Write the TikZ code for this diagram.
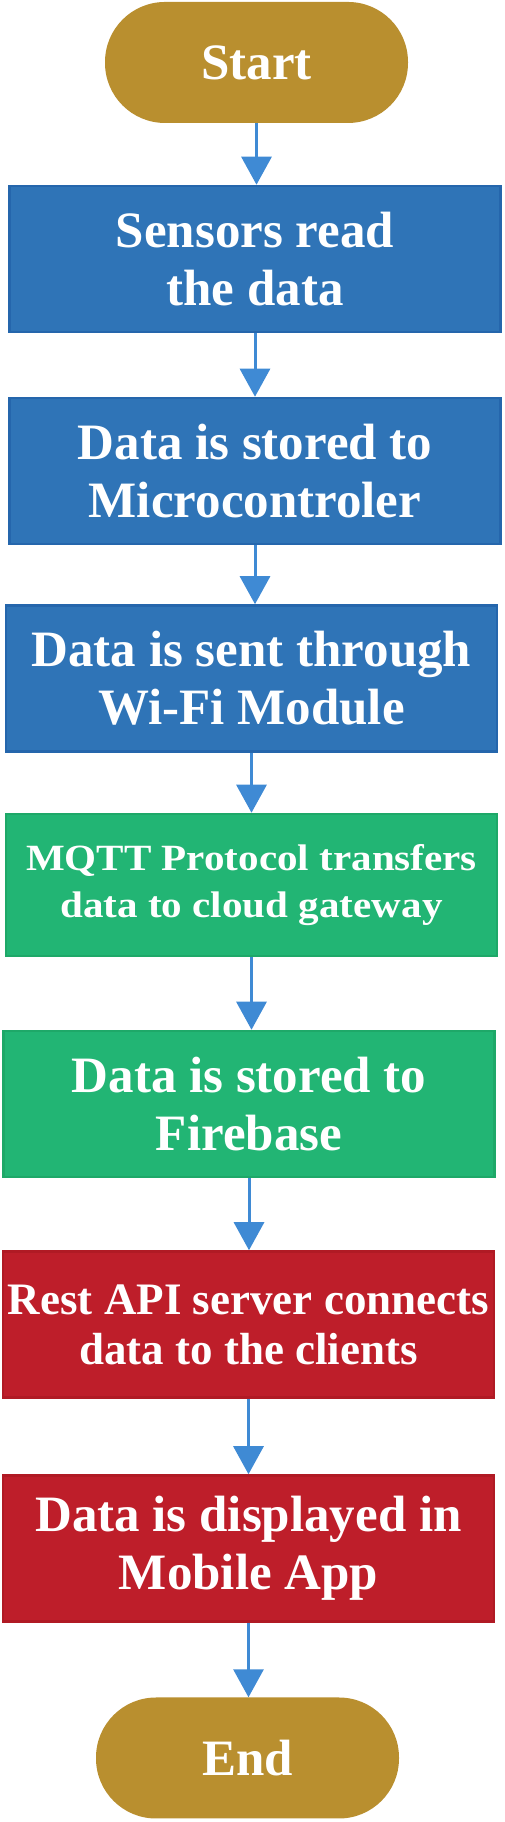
\documentclass[tikz,border=0pt]{standalone}
\usepackage{fontspec}
\setmainfont{Liberation Serif}
\newfontfamily\widefont[FakeStretch=1.11]{Liberation Serif}
\usepackage{tikz}
\usepackage{xcolor}
\usetikzlibrary{arrows.meta}
\definecolor{gold}{HTML}{B98F2F}
\definecolor{boxblue}{HTML}{2F74B7}
\definecolor{edgeblue}{HTML}{2566AC}
\definecolor{boxgreen}{HTML}{22B574}
\definecolor{edgegreen}{HTML}{1EA868}
\definecolor{boxred}{HTML}{BE1E2A}
\definecolor{edgered}{HTML}{B01A24}
\definecolor{arrowblue}{HTML}{3F8AD4}

\begin{document}
\begin{tikzpicture}[x=1pt,y=1pt,>={Triangle[width=30pt,length=28pt]},
  term/.style={fill=gold,rounded corners=60pt,minimum width=303pt,minimum height=121pt,
    text=white,font=\bfseries\fontsize{51pt}{58pt}\selectfont},
  stepbox/.style={draw=edge#1,fill=box#1,line width=2.5pt,minimum width=491pt,
    minimum height=146pt,inner sep=0pt,align=center,text=white,
    font=\bfseries\fontsize{51pt}{58pt}\selectfont},
  flow/.style={->,draw=arrowblue,fill=arrowblue,line width=3pt}]
  \useasboundingbox (0,0) rectangle (505,1822);
  \node[term] (start) at (256.5,1759.5) {Start};
  \node[stepbox=blue] (sense) at (255,1563) {Sensors read\\the data};
  \node[stepbox=blue] (store) at (255,1351) {Data is stored to\\Microcontroler};
  \node[stepbox=blue] (send) at (251.5,1143.5) {Data is sent through\\Wi-Fi Module};
  \node[stepbox=green,minimum height=142pt,
    font=\widefont\bfseries\fontsize{37pt}{47pt}\selectfont] (mqtt) at (251.5,937)
    {MQTT Protocol transfers\\data to cloud gateway};
  \node[stepbox=green] (fire) at (249,718) {Data is stored to\\Firebase};
  \node[stepbox=red,font=\bfseries\fontsize{45pt}{50pt}\selectfont] (rest) at (248.5,497.5)
    {Rest API server connects\\data to the clients};
  \node[stepbox=red] (app) at (248.5,273.5) {Data is displayed in\\Mobile App};
  \node[term] (end) at (247.5,64) {End};
  \foreach \a/\b in {start/sense,sense/store,store/send,send/mqtt,mqtt/fire,fire/rest,rest/app,app/end}
    \draw[flow] (\a.south) -- (\a.south |- \b.north);
\end{tikzpicture}
\end{document}
